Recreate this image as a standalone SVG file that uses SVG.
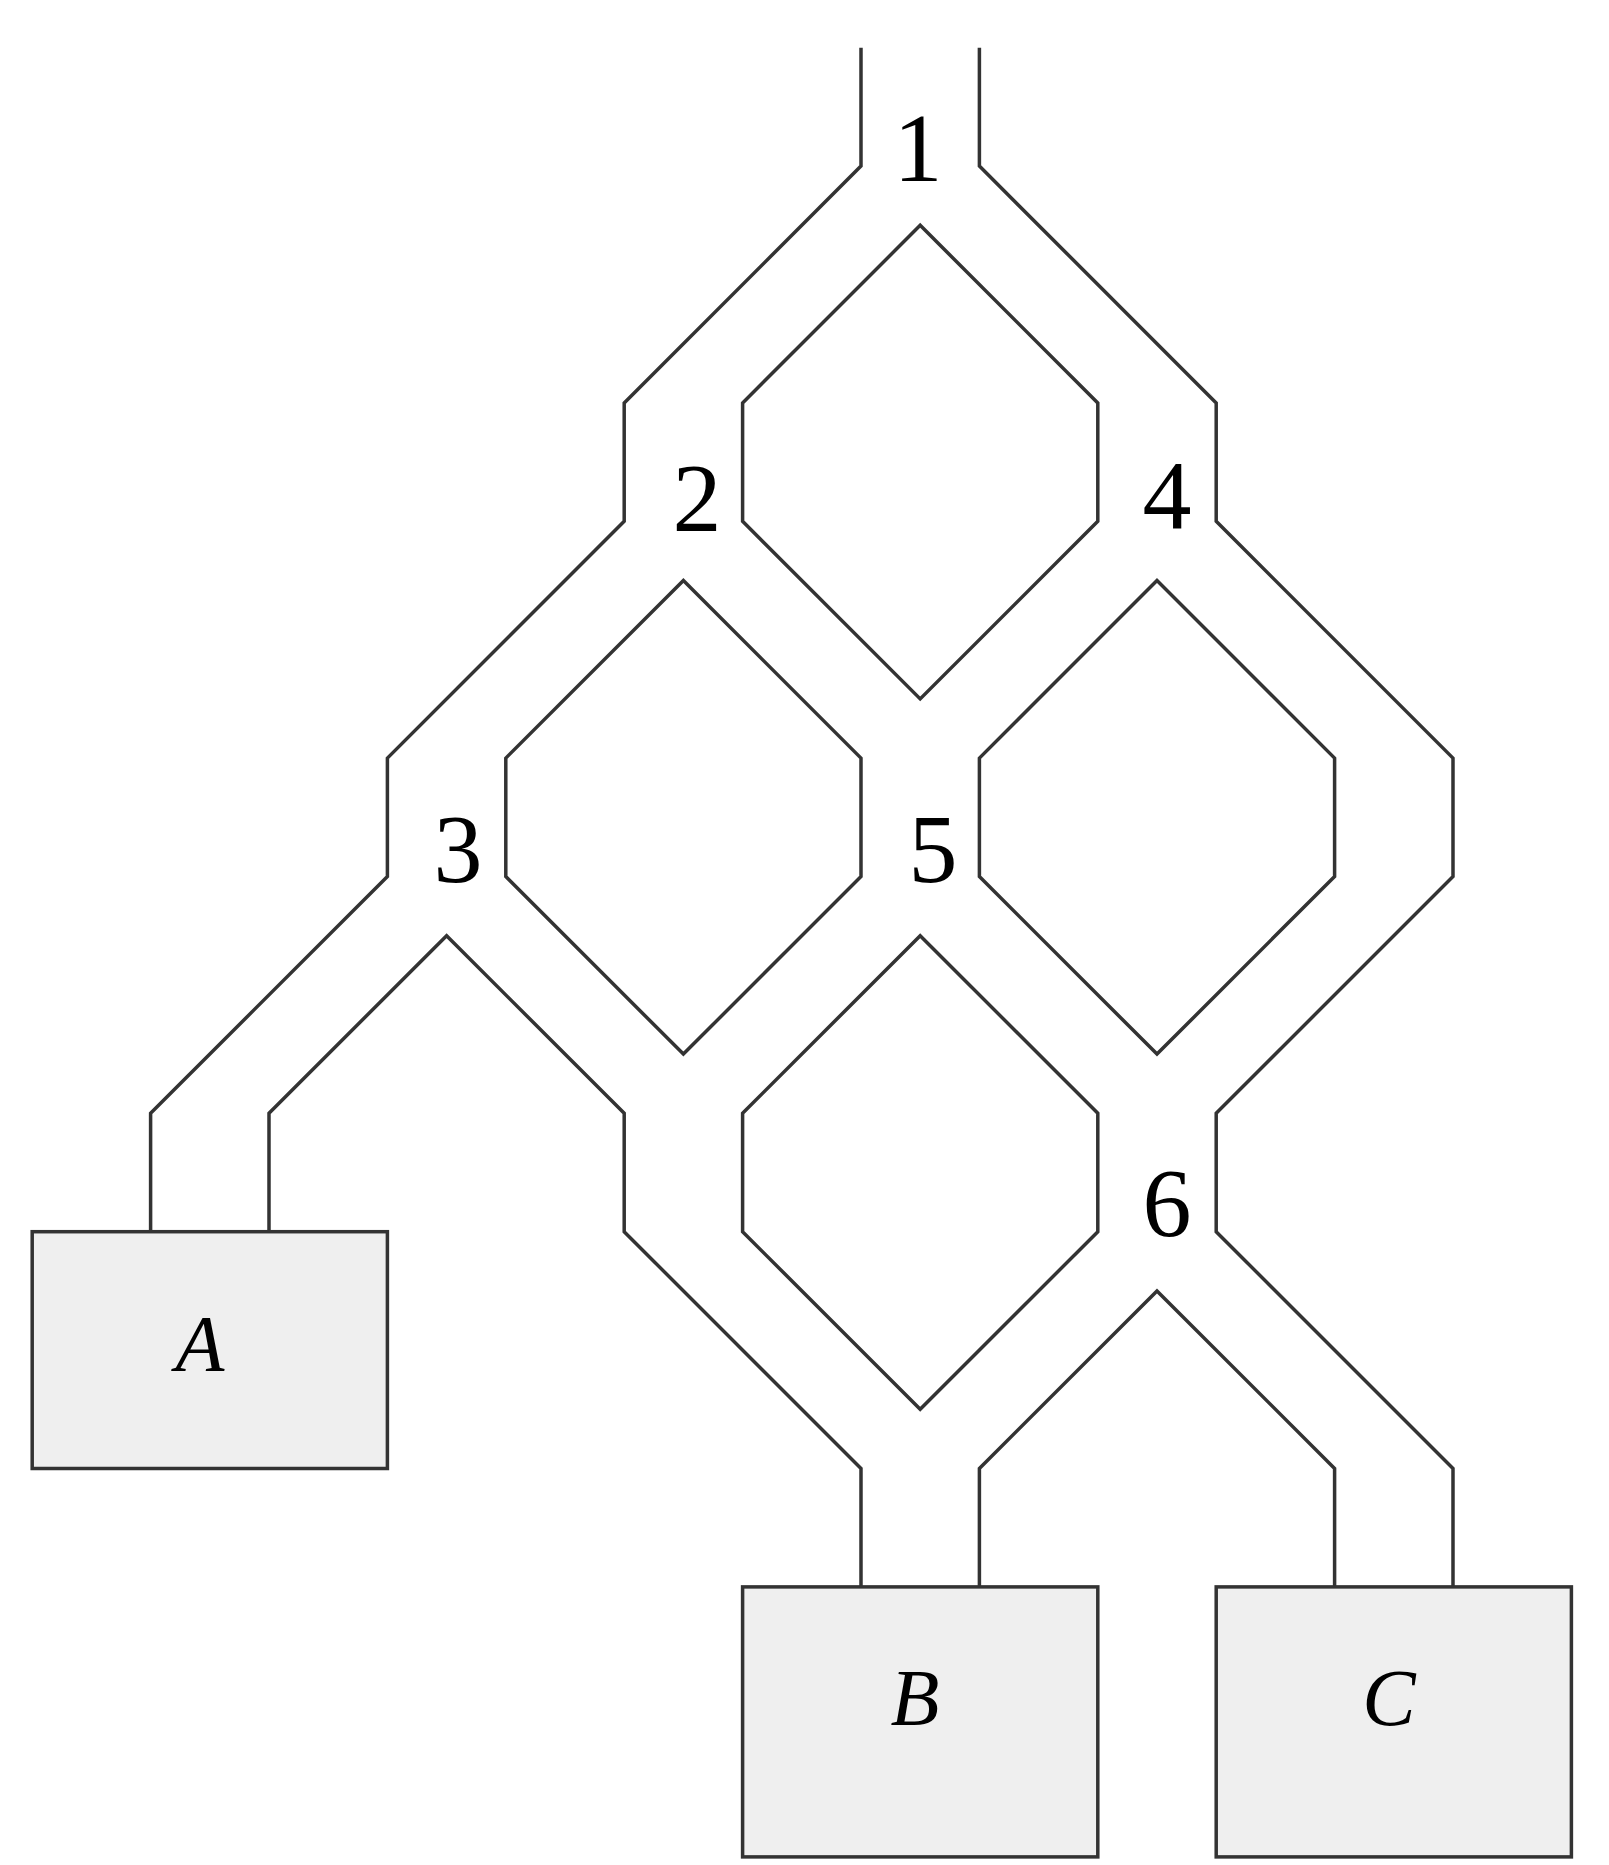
<svg xmlns="http://www.w3.org/2000/svg" width="1609" height="1865" viewBox="0 0 1609 1865">
<style>
.w{fill:none;stroke:#333;stroke-width:3.5;stroke-linejoin:miter}
.b{fill:#efefef;stroke:#333;stroke-width:3.5}
.n{font-family:"Liberation Serif",serif;font-size:98px;text-anchor:middle;fill:#000}
.l{font-family:"Liberation Serif",serif;font-style:italic;font-size:80px;text-anchor:middle;fill:#000}
</style>
<rect width="1609" height="1865" fill="#fff"/>
<g id="connectors" transform="translate(32.2,47.7) scale(118.4)">
<path class="w" vector-effect="non-scaling-stroke" d="M7,0V1L5,3V4L3,6V7L1,9V10"/>
<path class="w" vector-effect="non-scaling-stroke" d="M2,10V9L3.5,7.5L5,9V10L7,12V13"/>
<path class="w" vector-effect="non-scaling-stroke" d="M8,0V1L10,3V4L12,6V7L10,9V10L12,12V13"/>
<path class="w" vector-effect="non-scaling-stroke" d="M7.5,1.5L9,3V4L7.5,5.5L6,4V3Z"/>
<path class="w" vector-effect="non-scaling-stroke" d="M5.5,4.5L7,6V7L5.5,8.5L4,7V6Z"/>
<path class="w" vector-effect="non-scaling-stroke" d="M9.5,4.5L11,6V7L9.5,8.5L8,7V6Z"/>
<path class="w" vector-effect="non-scaling-stroke" d="M7.5,7.5L9,9V10L7.5,11.5L6,10V9Z"/>
<path class="w" vector-effect="non-scaling-stroke" d="M8,13V12L9.5,10.5L11,12V13"/>
</g>
<g id="A"><rect class="b" x="32.2" y="1231.7" width="355.2" height="236.8"/><text class="l" x="200" y="1371">A</text></g>
<g id="B"><rect class="b" x="742.6" y="1586.9" width="355.2" height="270"/><text class="l" x="915" y="1725">B</text></g>
<g id="C"><rect class="b" x="1216.2" y="1586.9" width="355.2" height="270"/><text class="l" x="1389" y="1725">C</text></g>
<g id="labels">
<text class="n" x="918" y="181">1</text>
<text class="n" x="697" y="531">2</text>
<text class="n" x="1167" y="528">4</text>
<text class="n" x="458" y="882">3</text>
<text class="n" x="933" y="882">5</text>
<text class="n" x="1167" y="1236">6</text>
</g>
</svg>
